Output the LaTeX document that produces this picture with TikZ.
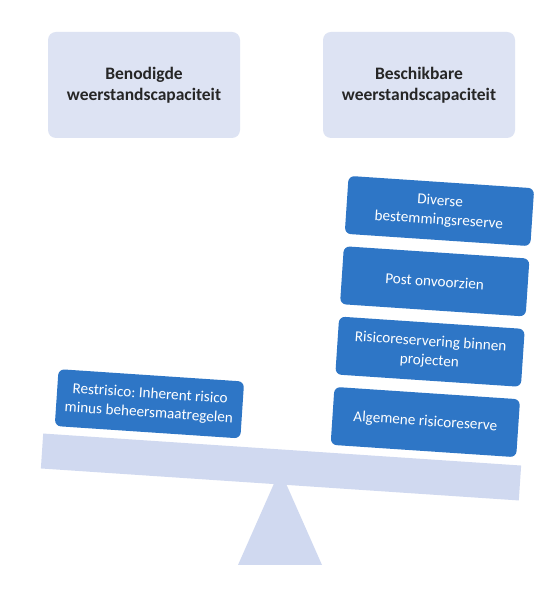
\documentclass[tikz,border=0pt]{standalone}
\usepackage{fontspec}
\setmainfont{Carlito}
\frenchspacing
\definecolor{topfill}{RGB}{221,227,243}
\definecolor{beamfill}{RGB}{208,217,240}
\definecolor{boxblue}{RGB}{46,118,198}
\begin{document}
\begin{tikzpicture}[x=1pt,y=1pt,
  headbox/.style={rounded corners=8pt, fill=topfill, minimum width=192pt, minimum height=106pt, align=center, font=\fontsize{17.5}{21.5}\selectfont\bfseries, text=black!85, inner sep=0pt},
  bluebox/.style={rounded corners=6pt, fill=boxblue, minimum width=186pt, minimum height=58pt, align=center, font=\fontsize{15.2}{19}\selectfont, text=white, inner sep=0pt}]
\useasboundingbox[fill=white] (0,0) rectangle (553,591);
\node[headbox] (need) at (144,506) {Benodigde\\weerstandscapaciteit};
\node[headbox] (have) at (419,506) {Beschikbare\\weerstandscapaciteit};
\fill[beamfill] (238,26) coordinate (tl) -- (322,26) coordinate (tr) -- (280,121) coordinate (ta) -- cycle;
\begin{scope}[shift={(281,124)}, rotate=-3.83, every node/.append style={transform shape}]
  \node[fill=beamfill, minimum width=479pt, minimum height=35pt, inner sep=0pt] (beam) at (0,0) {};
  \node[bluebox, minimum height=57pt] (rest) at (-135.5,54.3) {Restrisico: Inherent risico\\minus beheersmaatregelen};
  \node[bluebox] (alg) at (141,54.5) {Algemene risicoreserve};
  \node[bluebox] (proj) at (141,125) {Risicoreservering binnen\\projecten};
  \node[bluebox] (post) at (141,195.5) {Post onvoorzien};
  \node[bluebox] (div) at (141,266) {Diverse\\bestemmingsreserve};
\end{scope}
\end{tikzpicture}
\end{document}
